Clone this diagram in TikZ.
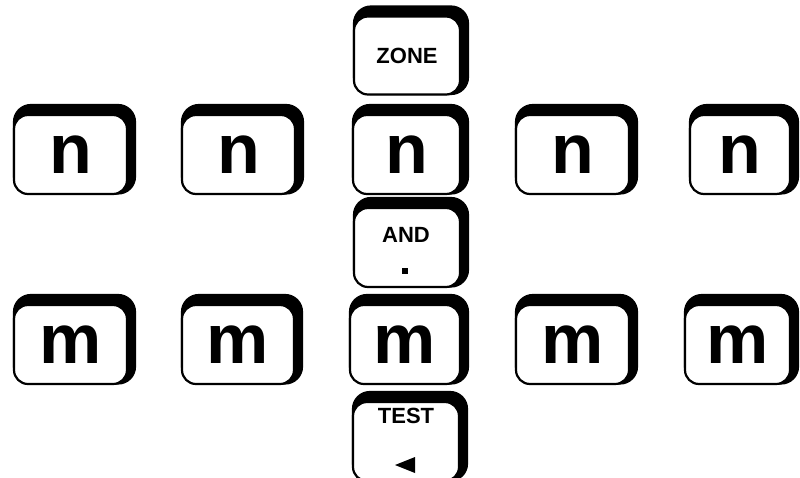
\documentclass[tikz,border=0pt]{standalone}
\usepackage{fontspec}
\setmainfont{Liberation Sans}
\usetikzlibrary{backgrounds}
\tikzset{
  keyface/.style={draw, line width=2.2pt, rounded corners=14pt, fill=white, inner sep=0pt,
    minimum width=113pt, minimum height=79pt, font=\bfseries\fontsize{70}{70}\selectfont},
  keyshadow/.style={fill=black, rounded corners=18pt},
  smalllbl/.style={font=\bfseries\fontsize{22}{22}\selectfont, inner sep=0pt},
  dotmark/.style={fill=black, inner sep=0pt, minimum size=6pt},
}
\newcommand{\keyshadowof}[1]{%
  \fill[keyshadow] ([yshift=10pt]#1.north west) rectangle ([xshift=8pt,yshift=0.5pt]#1.south east);}
\begin{document}
\begin{tikzpicture}[x=1pt,y=-1pt]
\useasboundingbox (0,0) rectangle (800,477);
% centre column
\node[keyface, minimum width=106pt, minimum height=78pt] (zone) at (407,55.5) {};
\node[smalllbl] (zonel) at (zone.center) {ZONE};
\node[keyface, minimum width=106pt] (and) at (407,247.5) {};
\node[smalllbl] (andl) at (406,234.5) {AND};
\node[dotmark] (anddot) at (404.5,270.5) {};
\node[keyface, minimum width=106pt] (test) at (406,441.5) {};
\node[smalllbl] (testl) at (406,415.5) {TEST};
\fill (395,465) -- (415,457) -- (415,473) -- cycle;
% row n
\node[keyface] (n1) at (70.5,154.5) {n};
\node[keyface] (n2) at (238.5,154.5) {n};
\node[keyface, minimum width=107pt] (n3) at (406.5,154.5) {n};
\node[keyface] (n4) at (572.5,154.5) {n};
\node[keyface, minimum width=100pt] (n5) at (740,154.5) {n};
% row m
\node[keyface] (m1) at (70.5,344.5) {m};
\node[keyface, minimum width=112pt] (m2) at (238,344.5) {m};
\node[keyface, minimum width=110pt] (m3) at (405,344.5) {m};
\node[keyface] (m4) at (572.5,344.5) {m};
\node[keyface, minimum width=105pt] (m5) at (737.5,344.5) {m};
\begin{scope}[on background layer]
\fill[white] (0,0) rectangle (800,477);
\foreach \k in {zone,and,test,n1,n2,n3,n4,n5,m1,m2,m3,m4,m5}{\keyshadowof{\k}}
\end{scope}
\end{tikzpicture}
\end{document}
